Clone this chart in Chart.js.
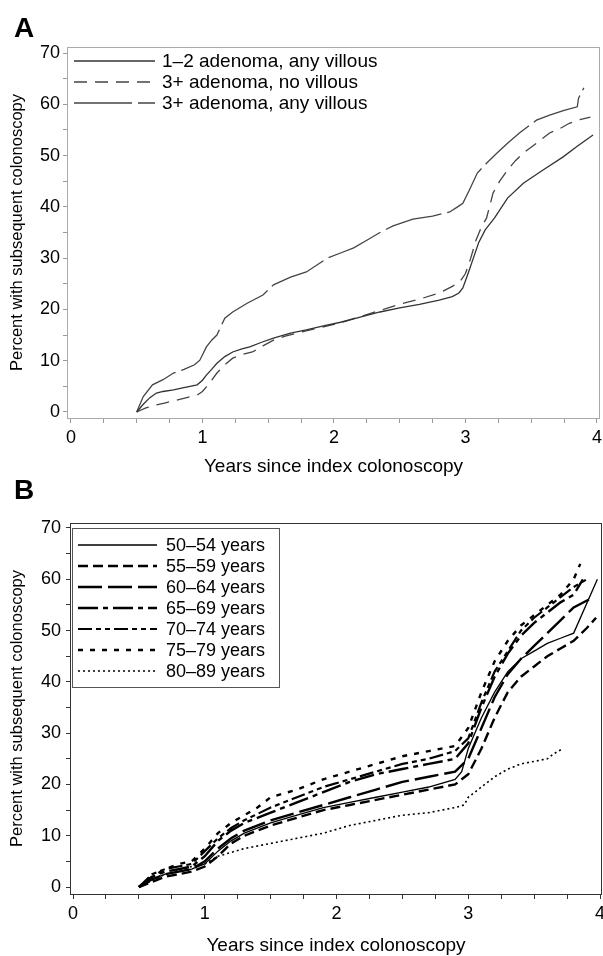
<!DOCTYPE html>
<html><head><meta charset="utf-8">
<script src="https://cdn.jsdelivr.net/npm/chart.js@4"></script>
<style>
html,body{margin:0;padding:0;background:#fff;width:603px;height:956px;overflow:hidden}
#wa{position:absolute;left:0;top:0;width:603px;height:480px}
#wb{position:absolute;left:0;top:480px;width:603px;height:478px}
.lt{position:absolute;left:14px;font:bold 28px "Liberation Sans",Arial,sans-serif;line-height:28px;color:#000}
</style></head><body>
<div id="wa"><canvas id="ca" width="603" height="480"></canvas></div>
<div id="wb"><canvas id="cb" width="603" height="478"></canvas></div>
<div class="lt" style="top:14px">A</div>
<div class="lt" style="top:476px">B</div>
<script>
// ---------- shared axis text ----------
const X_TITLE = "Years since index colonoscopy";
const Y_TITLE = "Percent with subsequent colonoscopy";
const X_TICKS = [0,0.25,0.5,0.75,1,1.25,1.5,1.75,2,2.25,2.5,2.75,3,3.25,3.5,3.75,4];
const Y_TICKS = [0,5,10,15,20,25,30,35,40,45,50,55,60,65,70];

// ---------- Panel A ----------
const A_LABELS = ["1\u20132 adenoma, any villous","3+ adenoma, no villous","3+ adenoma, any villous"];
const A1_X = [0.5,0.55,0.6,0.65,0.7,0.78,0.85,0.96,1.0,1.03,1.07,1.11,1.17,1.23,1.3,1.36,1.45,1.54,1.67,1.79,1.92,2.05,2.2,2.35,2.5,2.65,2.8,2.9,2.95,2.98,3.02,3.06,3.1,3.15,3.22,3.32,3.44,3.59,3.74,3.85,3.97];
const A1_Y = [0,1.5,2.8,3.7,4.0,4.3,4.7,5.3,6.2,7.2,8.3,9.5,10.8,11.7,12.3,12.7,13.6,14.4,15.4,16,16.8,17.5,18.5,19.5,20.3,21,21.8,22.5,23.2,24.2,27,30,33,35.5,37.8,41.7,44.6,47.2,49.7,51.8,54];
const A2_X = [0.5,0.57,0.65,0.72,0.8,0.88,0.96,1.0,1.03,1.07,1.11,1.17,1.23,1.3,1.38,1.46,1.54,1.63,1.72,1.82,1.92,2.05,2.2,2.35,2.5,2.65,2.8,2.9,2.96,3.0,3.04,3.08,3.12,3.16,3.21,3.26,3.32,3.38,3.44,3.54,3.64,3.72,3.79,3.87,3.95];
const A2_Y = [0,0.8,1.4,1.8,2.3,2.8,3.3,4.0,4.9,6.2,7.6,9.2,10.5,11.2,11.7,12.9,14,14.8,15.4,16,16.6,17.4,18.6,19.8,21,22,23.2,24.5,25.5,27,30,33.5,36,37.8,42.7,45,47.2,49,50.5,52.4,54.4,55.3,56.3,57,57.5];
const A3_X = [0.5,0.55,0.62,0.7,0.78,0.86,0.94,0.98,1.03,1.07,1.11,1.17,1.23,1.34,1.46,1.54,1.67,1.79,1.95,2.05,2.15,2.25,2.35,2.45,2.6,2.75,2.88,2.94,2.98,3.03,3.09,3.16,3.24,3.32,3.41,3.54,3.64,3.75,3.85,3.86,3.9];
const A3_Y = [0,3,5.3,6.3,7.6,8.3,9.2,10.1,12.7,14,15,18.3,19.5,21.2,22.8,24.8,26.3,27.3,30,31,32,33.5,35,36.3,37.6,38.2,39,40,40.7,43.3,46.6,48.5,50.5,52.4,54.4,56.9,57.9,58.8,59.5,61.2,63.2];

// ---------- Panel B ----------
const B_LABELS = ["50\u201354 years","55\u201359 years","60\u201364 years","65\u201369 years","70\u201374 years","75\u201379 years","80\u201389 years"];
const B50_X = [0.5,0.6,0.7,0.8,0.9,1.0,1.1,1.2,1.3,1.5,1.7,1.9,2.1,2.3,2.5,2.7,2.9,2.95,3.0,3.1,3.2,3.3,3.4,3.5,3.6,3.7,3.8,3.98];
const B50_Y = [0,1.5,2.5,3,3.5,4.5,7,9,10.5,12.5,14,15.5,16.5,17.5,18.5,19.5,21,22.5,27,33,38,42,44.5,46,47.5,48.5,49.5,60];
const B55_X = [0.5,0.6,0.7,0.8,0.9,1.0,1.1,1.2,1.3,1.5,1.7,1.9,2.1,2.3,2.5,2.7,2.9,3.0,3.1,3.2,3.3,3.4,3.5,3.6,3.7,3.8,3.9,3.97];
const B55_Y = [0,1,2,2.5,3,4,6,8.5,10,12,13.5,15,16,17,18,19,20,22,27,33,38,41,43,45,46.5,48,50.5,52.5];
const B60_X = [0.5,0.6,0.7,0.8,0.9,1.0,1.1,1.2,1.3,1.5,1.7,1.9,2.1,2.3,2.5,2.7,2.9,3.0,3.1,3.2,3.3,3.4,3.5,3.6,3.7,3.8,3.95];
const B60_Y = [0,1.5,2.5,3,3.5,5,7.5,9.5,11,13,14.5,16,17.5,19,20.5,21.5,22.5,25,31,37,41.5,44.5,47,49.5,52,54.5,56.5];
const B65_X = [0.5,0.6,0.7,0.8,0.9,1.0,1.1,1.2,1.3,1.5,1.7,1.9,2.1,2.3,2.5,2.7,2.9,3.0,3.1,3.2,3.3,3.4,3.5,3.6,3.7,3.8,3.87];
const B65_Y = [0,2,3,3.5,4,6,9,11,12.5,14.5,16.5,18.5,20.5,22,23,24,25,28,35,41,45.5,49,51.5,53.5,55.5,57,60];
const B70_X = [0.5,0.6,0.7,0.8,0.9,1.0,1.1,1.2,1.3,1.5,1.7,1.9,2.1,2.3,2.5,2.7,2.9,3.0,3.1,3.2,3.3,3.4,3.5,3.6,3.7,3.8,3.9];
const B70_Y = [0,2.5,3.5,4,4.5,7,9.5,11.5,13,15.5,17.5,19.5,21,22.5,24,25,26.5,29,36,42,46,50,52.5,54.5,56.5,58.5,60];
const B75_X = [0.5,0.6,0.7,0.8,0.9,1.0,1.1,1.2,1.3,1.4,1.5,1.7,1.9,2.1,2.3,2.5,2.7,2.9,3.0,3.1,3.2,3.3,3.4,3.5,3.6,3.7,3.8,3.85];
const B75_Y = [0,2,3.5,4.5,5,7.5,10.5,12.5,14,15.5,17.5,19,21,22.5,24,25.5,26.5,27.5,31,38,44,48,51,53,55,57,60,63];
const B80_X = [0.5,0.7,0.9,1.0,1.1,1.3,1.5,1.7,1.9,2.1,2.3,2.5,2.7,2.9,2.97,3.0,3.05,3.1,3.2,3.3,3.4,3.5,3.6,3.65,3.72];
const B80_Y = [0,2.5,4,4.5,6,7.5,8.5,9.5,10.5,12,13,14,14.5,15.5,16,17.5,18.5,19.5,21.5,23,24,24.5,25,26,27];

const F = '"Liberation Sans", Arial, Helvetica, sans-serif';
function pts(xs, ys){ return xs.map((x,i)=>({x:x,y:ys[i]})); }

const frameLegend = {
  id:'frameLegend',
  afterDatasetsDraw(chart, args, o){
    const ctx = chart.ctx, a = chart.chartArea;
    ctx.save();
    ctx.strokeStyle = o.frameColor; ctx.lineWidth = 1;
    ctx.strokeRect(Math.round(a.left)+0.5, Math.round(a.top)+0.5, Math.round(a.right-a.left)-1, Math.round(a.bottom-a.top));
    if (o.box){
      ctx.strokeStyle = o.box.color;
      ctx.strokeRect(o.box.x+0.5, o.box.y+0.5, o.box.w, o.box.h);
    }
    ctx.font = o.fontSize + 'px ' + F;
    ctx.fillStyle = '#000';
    ctx.textBaseline = 'middle';
    chart.data.datasets.forEach((d,i)=>{
      const y = o.ys[i];
      ctx.beginPath();
      ctx.setLineDash(d.borderDash || []);
      ctx.strokeStyle = d.borderColor; ctx.lineWidth = d.borderWidth;
      ctx.moveTo(o.x0, y); ctx.lineTo(o.x1, y); ctx.stroke();
      ctx.setLineDash([]);
      ctx.fillText(d.label, o.tx, y+1);
    });
    ctx.restore();
  }
};

function scales(o){
  return {
    x:{type:'linear', min:o.xmin, max:o.xmax,
      afterBuildTicks:s=>{ s.ticks = X_TICKS.map(v=>({value:v})); },
      afterFit:s=>{ s.height = o.xh; s.paddingLeft = 0; s.paddingRight = 0; },
      ticks:{autoSkip:false, maxRotation:0, minRotation:0, padding:o.xpad, color:'#000', font:{size:18, family:F},
        callback:v=> Math.abs(v-Math.round(v))<1e-9 ? String(Math.round(v)) : ''},
      grid:{drawOnChartArea:false, drawTicks:true, tickLength:5, color:o.tc, lineWidth:1},
      border:{display:false},
      title:{display:true, text:X_TITLE, color:'#000', font:{size:19, family:F}, padding:{top:0,bottom:o.tb}}
    },
    y:{type:'linear', min:o.ymin, max:o.ymax,
      afterBuildTicks:s=>{ s.ticks = Y_TICKS.map(v=>({value:v})); },
      afterFit:s=>{ s.width = o.yw; s.paddingTop = 0; s.paddingBottom = 0; },
      ticks:{autoSkip:false, padding:o.ypad, color:'#000', font:{size:18, family:F},
        callback:v=> v%10===0 ? String(v) : ''},
      grid:{drawOnChartArea:false, drawTicks:true, tickLength:4, color:o.tc, lineWidth:1},
      border:{display:false},
      title:{display:true, text:Y_TITLE, color:'#000', font:{size:16.5, family:F}, padding:{top:8,bottom:0}}
    }
  };
}

Chart.defaults.font.family = F;

new Chart(document.getElementById('ca'), {
  type:'line',
  data:{datasets:[
    {label:A_LABELS[0], data:pts(A1_X,A1_Y), borderColor:'#333', borderWidth:1.3, borderDash:[]},
    {label:A_LABELS[1], data:pts(A2_X,A2_Y), borderColor:'#444', borderWidth:1.3, borderDash:[13,8]},
    {label:A_LABELS[2], data:pts(A3_X,A3_Y), borderColor:'#444', borderWidth:1.3, borderDash:[58,6]}
  ]},
  options:{responsive:false, animation:false, devicePixelRatio:1,
    layout:{padding:{top:47, right:3, left:0, bottom:0}},
    elements:{point:{radius:0}, line:{tension:0, fill:false}},
    plugins:{legend:{display:false}, tooltip:{enabled:false},
      frameLegend:{frameColor:'#aaa', fontSize:19, x0:74, x1:155, tx:162, ys:[61,82,103]}},
    scales:scales({xmin:-0.03, xmax:4.023, ymin:-1.17, ymax:71.17, xh:62, yw:67, xpad:4, ypad:3, tb:1.6, tc:'#999'})
  },
  plugins:[frameLegend]
});

new Chart(document.getElementById('cb'), {
  type:'line',
  data:{datasets:[
    {label:B_LABELS[0], data:pts(B50_X,B50_Y), borderColor:'#000', borderWidth:1.3, borderDash:[]},
    {label:B_LABELS[1], data:pts(B55_X,B55_Y), borderColor:'#000', borderWidth:2.4, borderDash:[10,5]},
    {label:B_LABELS[2], data:pts(B60_X,B60_Y), borderColor:'#000', borderWidth:2.4, borderDash:[24,6]},
    {label:B_LABELS[3], data:pts(B65_X,B65_Y), borderColor:'#000', borderWidth:2.4, borderDash:[20,5,5,5]},
    {label:B_LABELS[4], data:pts(B70_X,B70_Y), borderColor:'#000', borderWidth:2.2, borderDash:[14,4,5,4,5,4]},
    {label:B_LABELS[5], data:pts(B75_X,B75_Y), borderColor:'#000', borderWidth:2.4, borderDash:[5,7]},
    {label:B_LABELS[6], data:pts(B80_X,B80_Y), borderColor:'#000', borderWidth:1.6, borderDash:[2,3]}
  ]},
  options:{responsive:false, animation:false, devicePixelRatio:1,
    layout:{padding:{top:43, right:1, left:0, bottom:0}},
    elements:{point:{radius:0}, line:{tension:0, fill:false}},
    plugins:{legend:{display:false}, tooltip:{enabled:false},
      frameLegend:{frameColor:'#333', fontSize:18, x0:78, x1:157, tx:166, ys:[65,86,107,128,149,170,191],
        box:{x:72, y:48, w:207, h:159, color:'#555'}}},
    scales:scales({xmin:-0.023, xmax:4.015, ymin:-1.36, ymax:70.97, xh:64, yw:70, xpad:4, ypad:5, tb:0.6, tc:'#333'})
  },
  plugins:[frameLegend]
});
</script>
</body></html>
